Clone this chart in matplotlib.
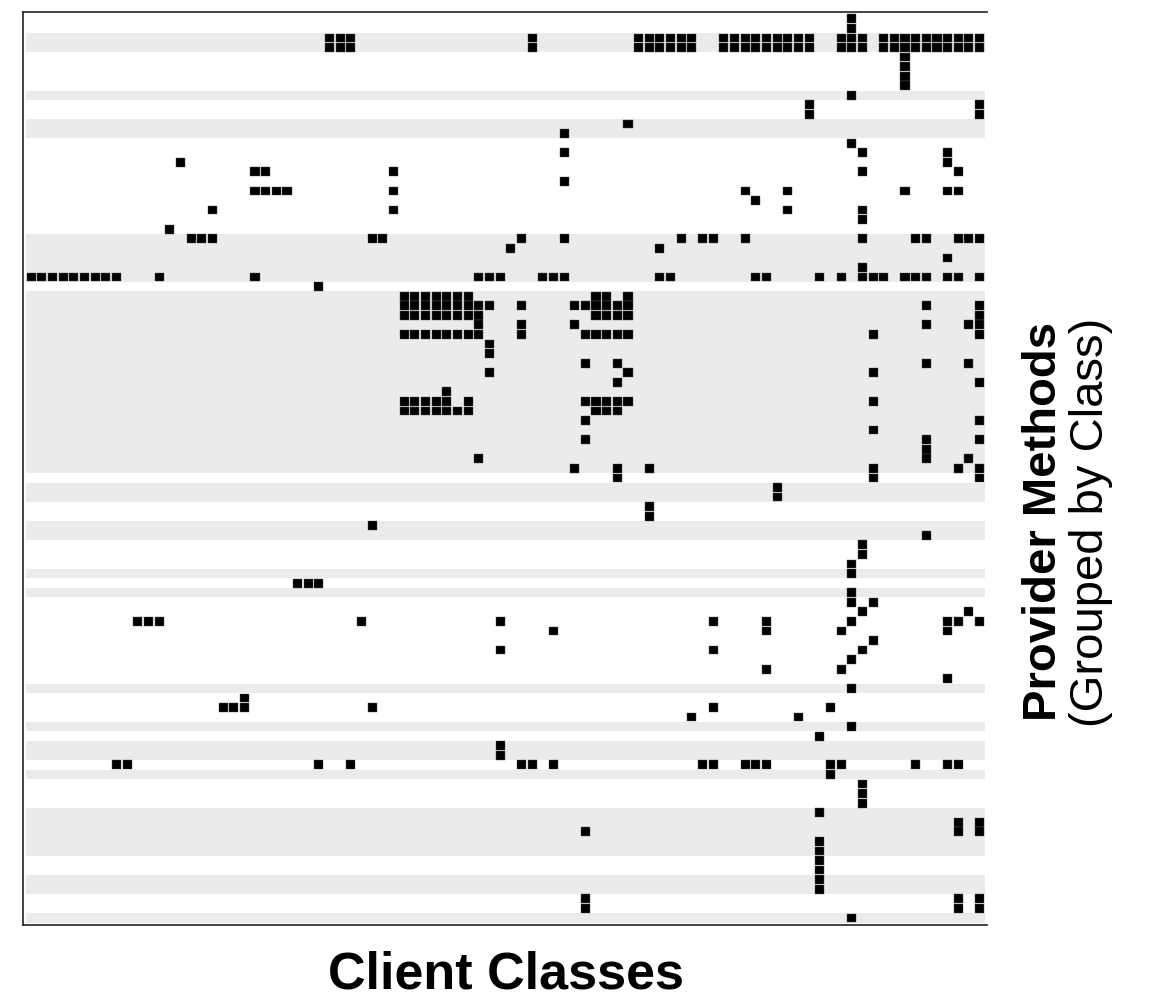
"""Client/provider dependency matrix, rows grouped by provider class."""

import numpy as np
import matplotlib
matplotlib.use("Agg")
import matplotlib.pyplot as plt

matplotlib.rcParams['font.family'] = ['Liberation Sans', 'DejaVu Sans']

# number of client classes (columns)
n_clients = 90

# provider methods per class, top to bottom (bands alternate white / grey)
class_sizes = [2, 2, 4, 1, 2, 2, 10, 5, 1, 19, 1, 2, 2, 2, 3, 1,
               1, 1, 9, 1, 3, 1, 1, 2, 1, 1, 3, 5, 2, 2, 2, 1]

# for each provider method (row), the client classes that call it
r = range
calls = [
    [77],
    [77],
    [28, 29, 30, 47, *r(57, 63), *r(65, 74), 76, 77, 78, *r(80, 90)],
    [28, 29, 30, 47, *r(57, 63), *r(65, 74), 76, 77, 78, *r(80, 90)],
    [82],
    [82],
    [82],
    [82],
    [77],
    [73, 89],
    [73, 89],
    [56],
    [50],
    [77],
    [50, 78, 86],
    [14, 86],
    [21, 22, 34, 78, 87],
    [50],
    [21, 22, 23, 24, 34, 67, 71, 82, 86, 87],
    [68],
    [17, 34, 71, 78],
    [78],
    [13],
    [15, 16, 17, 32, 33, 46, 50, 61, 63, 64, 67, 78, 83, 84, 87, 88, 89],
    [45, 59],
    [86],
    [78],
    [*r(0, 9), 12, 21, 42, 43, 44, 48, 49, 50, 59, 60, 68, 69, 74, 76,
     78, 79, 80, 82, 83, 84, 86, 87, 89],
    [27],
    [*r(35, 42), 53, 54, 56],
    [*r(35, 44), 46, *r(51, 57), 84, 89],
    [*r(35, 43), *r(53, 57), 89],
    [42, 46, 51, 84, 88, 89],
    [*r(35, 43), 46, *r(52, 57), 79, 89],
    [43],
    [43],
    [52, 55, 84, 88],
    [43, 56, 79],
    [55, 89],
    [39],
    [*r(35, 40), 41, *r(52, 57), 79],
    [*r(35, 42), 53, 54, 55],
    [52, 89],
    [79],
    [52, 84, 89],
    [84],
    [42, 84, 88],
    [51, 55, 58, 79, 87, 89],
    [55, 79, 89],
    [70],
    [70],
    [58],
    [58],
    [32],
    [84],
    [78],
    [78],
    [77],
    [77],
    [25, 26, 27],
    [77],
    [77, 79],
    [78, 88],
    [10, 11, 12, 31, 44, 64, 69, 77, 86, 87, 89],
    [49, 69, 76, 86],
    [79],
    [44, 64, 78],
    [77],
    [69, 76],
    [86],
    [77],
    [20],
    [18, 19, 20, 32, 64, 75],
    [62, 72],
    [77],
    [74],
    [44],
    [44],
    [8, 9, 27, 30, 46, 47, 49, 63, 64, 67, 68, 69, 75, 76, 83, 86, 87],
    [75],
    [78],
    [78],
    [78],
    [74],
    [87, 89],
    [52, 87, 89],
    [74],
    [74],
    [74],
    [74],
    [74],
    [74],
    [52, 87, 89],
    [52, 87, 89],
    [77],
]

n_methods = len(calls)

fig = plt.figure(figsize=(11.65, 9.99), dpi=100)
W, H = 1165, 999
ax = fig.add_axes([23 / W, 1 - 925 / H, (986.7 - 23) / W, (925 - 12) / H])

# class bands
starts = np.cumsum([0] + class_sizes[:-1])
for i, (s, n) in enumerate(zip(starts, class_sizes)):
    if i % 2 == 1:
        ax.barh(s, n_clients, height=n, left=0, align='edge',
                color='#ebebeb', linewidth=0, zorder=1)

# call cells
rows = [i for i, cols in enumerate(calls) for _ in cols]
cols = [c for cs in calls for c in cs]
ax.bar(np.array(cols) + 0.07, 0.92, width=0.85, bottom=np.array(rows) + 0.04,
       align='edge', color='black', edgecolor='#555555', linewidth=0.3,
       zorder=2)

ax.set_xlim(-0.28, n_clients + 0.16)
ax.set_ylim(n_methods + 0.24, -0.21)
ax.set_xticks([])
ax.set_yticks([])
for side in ['left', 'top', 'bottom']:
    ax.spines[side].set_linewidth(1.2)
    ax.spines[side].set_color('#222222')
ax.spines['right'].set_visible(False)

fig.text(506 / W, 1 - 975 / H, 'Client Classes', fontsize=37.5,
         fontweight='bold', ha='center', va='center')
fig.text(1044 / W, 1 - 521 / H, 'Provider Methods', fontsize=34,
         fontweight='bold', rotation=90, ha='center', va='center')
fig.text(1091 / W, 1 - 522 / H, '(Grouped by Class)', fontsize=34,
         rotation=90, ha='center', va='center')

plt.savefig('out.png', dpi=100)
plt.close()
